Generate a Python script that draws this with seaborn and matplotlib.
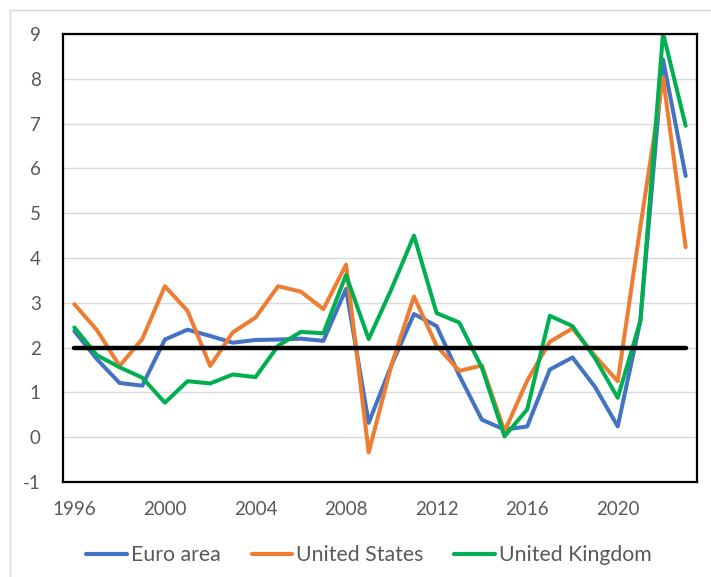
import matplotlib
matplotlib.use("Agg")
import matplotlib.pyplot as plt
from matplotlib.patches import Rectangle
from matplotlib.lines import Line2D
import seaborn as sns
import pandas as pd

years = list(range(1996, 2024))
euro_area = [2.37, 1.74, 1.21, 1.15, 2.18, 2.40, 2.26, 2.11, 2.17, 2.18, 2.20, 2.15, 3.31, 0.32,
             1.60, 2.75, 2.48, 1.38, 0.39, 0.17, 0.24, 1.51, 1.78, 1.12, 0.24, 2.60, 8.43, 5.83]
united_states = [2.97, 2.39, 1.59, 2.19, 3.37, 2.82, 1.59, 2.34, 2.67, 3.37, 3.25, 2.86, 3.85, -0.34,
                 1.60, 3.14, 2.04, 1.48, 1.60, 0.13, 1.26, 2.13, 2.43, 1.81, 1.25, 4.70, 8.03, 4.24]
united_kingdom = [2.45, 1.83, 1.56, 1.33, 0.77, 1.25, 1.20, 1.40, 1.34, 2.04, 2.35, 2.32, 3.62, 2.19,
                  3.30, 4.50, 2.77, 2.56, 1.55, 0.02, 0.62, 2.71, 2.48, 1.76, 0.88, 2.60, 9.02, 6.95]
target = 2.0
series_names = ["Euro area", "United States", "United Kingdom"]
colors = ["#4472C4", "#ED7D31", "#00B050"]
y_ticks = list(range(-1, 10))
x_ticks = [1996, 2000, 2004, 2008, 2012, 2016, 2020]

df = pd.DataFrame({
    "year": years * 3,
    "value": euro_area + united_states + united_kingdom,
    "series": [series_names[0]] * len(years) + [series_names[1]] * len(years) + [series_names[2]] * len(years),
})

sns.set_style("white")
plt.rcParams["font.family"] = ["Lato", "DejaVu Sans"]
plt.rcParams["axes.unicode_minus"] = False

fig = plt.figure(figsize=(7.11, 5.77), dpi=100)
ax = fig.add_axes([63 / 711, 1 - 482 / 577, (697 - 63) / 711, (482 - 34) / 577])

sns.lineplot(data=df, x="year", y="value", hue="series", hue_order=series_names,
             palette=colors, linewidth=2.9, ax=ax, legend=False)
sns.lineplot(x=years, y=[target] * len(years), color="black", linewidth=3.2, ax=ax)

ax.set_xlim(1995.5, 2023.5)
ax.set_ylim(-1, 9)
ax.set_yticks(y_ticks)
ax.set_xticks(x_ticks)
ax.set_xlabel("")
ax.set_ylabel("")
ax.yaxis.grid(True, color="#D9D9D9", linewidth=1.0)
ax.xaxis.grid(False)
ax.set_axisbelow(True)
for s in ax.spines.values():
    s.set_color("black")
    s.set_linewidth(1.6)
ax.tick_params(axis="both", length=0, labelsize=13.5, labelcolor="#595959")
ax.tick_params(axis="y", pad=16)
ax.tick_params(axis="x", pad=14)

handles = [Line2D([0], [0], color=c, linewidth=3.0) for c in colors]
fig.legend(handles, series_names, loc="center", bbox_to_anchor=(369 / 711, 1 - 555 / 577),
           ncol=3, frameon=False, fontsize=15.3, labelcolor="#595959",
           handlelength=1.9, handletextpad=0.2, columnspacing=1.45)

fig.patches.append(Rectangle((10 / 711, -0.1), 1.2, 1 - 10 / 577 + 0.1, fill=False,
                             edgecolor="#D9D9D9", linewidth=1.0, transform=fig.transFigure))

fig.savefig("out.png", dpi=100)
